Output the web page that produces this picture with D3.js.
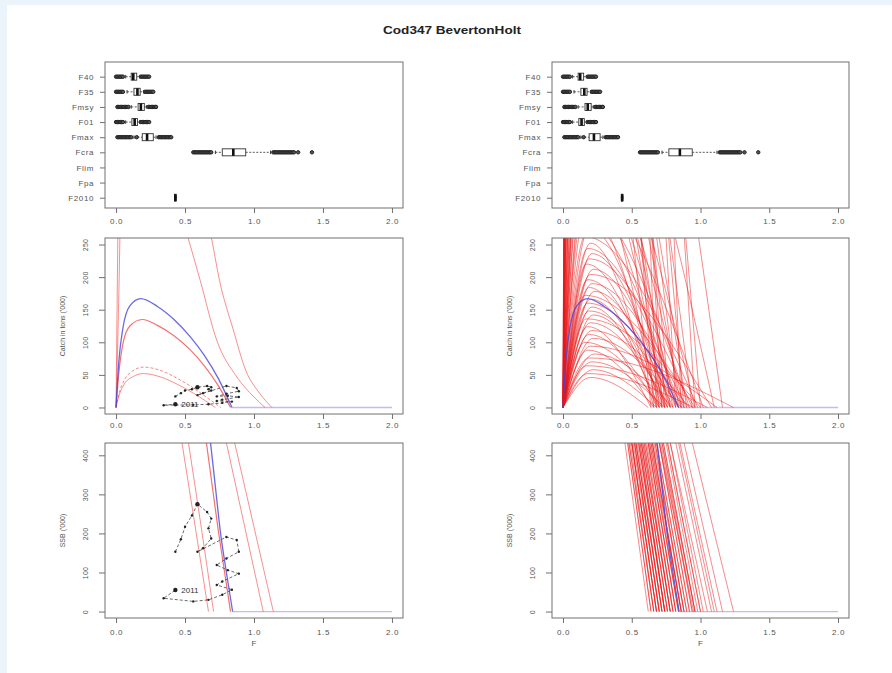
<!DOCTYPE html>
<html>
<head>
<meta charset="utf-8">
<script src="https://cdn.jsdelivr.net/npm/d3@7"></script>
<style>
  body { margin: 0; background: #ebf3fb; }
  svg { display: block; }
  text { font-family: 'Liberation Sans', Arial, sans-serif; }
</style>
</head>
<body>
<div id="chart"></div>
<script>
// ---- data ----
const fTicks = [0, 0.5, 1, 1.5, 2];
const catchTicks = [0, 50, 100, 150, 200, 250];
const ssbTicks = [0, 100, 200, 300, 400];

// reference points, bottom to top (R stacks the first group at the bottom)
const refNames = ['F2010', 'Fpa', 'Flim', 'Fcra', 'Fmax', 'F01', 'Fmsy', 'F35', 'F40'];
const refLo  = [0.425, null, null, 0.72, 0.13, 0.07, 0.11, 0.08, 0.07];
const refQ1  = [0.425, null, null, 0.77, 0.19, 0.115, 0.16, 0.13, 0.11];
const refMed = [0.43, null, null, 0.85, 0.225, 0.135, 0.18, 0.155, 0.125];
const refQ3  = [0.435, null, null, 0.94, 0.27, 0.155, 0.205, 0.175, 0.15];
const refHi  = [0.435, null, null, 1.12, 0.29, 0.17, 0.22, 0.20, 0.17];
const refOut = [
  [],
  [],
  [],
  [0.56, 0.57, 0.58, 0.59, 0.60, 0.61, 0.62, 0.63, 0.64, 0.65, 0.66, 0.67, 0.68, 0.69,
   1.14, 1.15, 1.16, 1.17, 1.18, 1.19, 1.20, 1.21, 1.22, 1.23, 1.24, 1.25, 1.26, 1.27, 1.28, 1.29, 1.32, 1.42],
  [0.01, 0.02, 0.03, 0.04, 0.05, 0.06, 0.07, 0.08, 0.09, 0.10, 0.11, 0.15,
   0.31, 0.32, 0.33, 0.34, 0.35, 0.36, 0.37, 0.38, 0.39, 0.40],
  [0.00, 0.01, 0.02, 0.03, 0.04, 0.05, 0.18, 0.19, 0.20, 0.21, 0.22, 0.23, 0.24],
  [0.01, 0.02, 0.03, 0.04, 0.05, 0.06, 0.07, 0.08, 0.09, 0.235, 0.245, 0.255, 0.265, 0.275, 0.285, 0.29],
  [0.00, 0.01, 0.02, 0.03, 0.04, 0.05, 0.21, 0.22, 0.23, 0.24, 0.25, 0.26, 0.27],
  [0.00, 0.01, 0.02, 0.03, 0.04, 0.05, 0.18, 0.19, 0.20, 0.21, 0.22, 0.23, 0.24]
];

// yield (catch) curves, [F, catch]
const yieldMedian = [[0, 0], [0.02, 70], [0.05, 122], [0.1, 156], [0.18, 167], [0.3, 155], [0.42, 135], [0.54, 108], [0.64, 80], [0.74, 45], [0.84, 0]];
const yieldLow = [[0, 0], [0.02, 52], [0.05, 98], [0.1, 125], [0.19, 135], [0.3, 126], [0.42, 110], [0.54, 88], [0.64, 64], [0.74, 34], [0.83, 0]];
const yieldLowDash = [[0, 0], [0.02, 20], [0.06, 42], [0.12, 56], [0.2, 62], [0.32, 57], [0.45, 44], [0.56, 30], [0.66, 15], [0.76, 0]];
const yieldLower = [[0, 0], [0.02, 17], [0.06, 36], [0.12, 47], [0.2, 52], [0.32, 47], [0.45, 35], [0.56, 22], [0.65, 10], [0.72, 0]];
const yieldUpper1 = [[0, 0], [0.013, 262], [0.03, 600], [0.52, 262], [0.61, 195], [0.73, 103], [0.875, 47], [1.0, 16], [1.08, 0]];
const yieldUpper2 = [[0, 0], [0.028, 262], [0.05, 600], [0.69, 262], [0.75, 195], [0.85, 119], [0.94, 57], [1.04, 22], [1.13, 0]];

// SSB curves, [F, SSB]
const ssbMedian = [[0.685, 432], [0.72, 320], [0.755, 208], [0.80, 100], [0.845, 0]];
const ssbMid = [[0.655, 432], [0.74, 210], [0.83, 0]];
const ssbLow1 = [[0.478, 432], [0.577, 210], [0.67, 0]];
const ssbLow2 = [[0.525, 432], [0.62, 210], [0.707, 0]];
const ssbHigh1 = [[0.80, 432], [0.937, 210], [1.067, 0]];
const ssbHigh2 = [[0.86, 432], [1.004, 210], [1.14, 0]];

// observed history
const trajYears = [1986, 1987, 1988, 1989, 1990, 1991, 1992, 1993, 1994, 1995, 1996, 1997, 1998,
                   1999, 2000, 2001, 2002, 2003, 2004, 2005, 2006, 2007, 2008, 2009, 2010, 2011];
const trajF = [0.43, 0.47, 0.50, 0.55, 0.59, 0.66, 0.69, 0.67, 0.69, 0.63, 0.59, 0.80, 0.875,
               0.89, 0.80, 0.73, 0.81, 0.89, 0.77, 0.73, 0.84, 0.77, 0.67, 0.56, 0.345, 0.43];
const trajSsb = [153, 185, 217, 246, 275, 255, 238, 213, 187, 162, 153, 191, 183,
                 153, 136, 119, 106, 97, 77, 68, 56, 43, 30, 26, 34, 55];
const trajCatch = [17, 22, 26, 28, 31, 33, 31, 28, 26, 22, 19, 33, 30,
                   25, 21, 17, 18, 16, 12, 10, 9, 7, 5, 4, 3.5, 5];
const markYears = [1990, 2011];

// bootstrap runs (right column)
const simFmsy = [0.20, 0.18, 0.22, 0.17, 0.21, 0.19, 0.23, 0.18, 0.20, 0.16, 0.22,
                 0.19, 0.21, 0.18, 0.20, 0.17, 0.22, 0.19, 0.21, 0.18, 0.20, 0.16,
                 0.23, 0.19, 0.21, 0.18, 0.20, 0.22, 0.17, 0.19, 0.21, 0.18, 0.20,
                 0.16, 0.19, 0.14, 0.17, 0.12, 0.15, 0.10, 0.18, 0.13, 0.16, 0.11,
                 0.14, 0.09, 0.17, 0.12, 0.15, 0.08, 0.13, 0.10, 0.14, 0.07, 0.11,
                 0.09, 0.12, 0.06, 0.10, 0.08, 0.11, 0.05, 0.09, 0.07, 0.06, 0.08];
const simMsy = [46, 52, 58, 64, 70, 76, 82, 88, 94, 100, 106,
                112, 118, 124, 130, 136, 142, 148, 154, 160, 166, 172,
                178, 184, 190, 196, 204, 212, 220, 228, 236, 244, 252,
                262, 275, 290, 305, 320, 338, 356, 375, 395, 420, 445,
                470, 500, 530, 560, 600, 640, 680, 730, 780, 840, 900,
                970, 1050, 1130, 1220, 1320, 1450, 1600, 1800, 2000, 2300, 2600];
const simFcrash = [0.62, 0.95, 0.68, 1.05, 0.74, 1.24, 0.80, 0.66, 1.12, 0.72, 0.86,
                   0.70, 0.92, 0.64, 0.78, 1.00, 0.76, 0.84, 0.70, 0.88, 0.74, 0.96,
                   0.80, 0.68, 0.90, 0.76, 1.08, 0.82, 0.72, 0.94, 0.78, 0.86, 0.66,
                   0.98, 0.74, 0.84, 0.70, 0.92, 0.78, 1.02, 0.82, 0.68, 0.88, 0.74,
                   0.96, 0.80, 0.72, 0.86, 1.10, 0.76, 0.90, 0.64, 0.84, 0.70, 0.94,
                   0.78, 1.16, 0.66, 0.88, 0.74, 1.00, 0.72, 0.82, 0.96, 0.68, 0.86];
const simFtop = [0.45, 0.70, 0.50, 0.78, 0.55, 0.94, 0.60, 0.48, 0.85, 0.53, 0.65,
                 0.52, 0.70, 0.47, 0.58, 0.76, 0.57, 0.63, 0.51, 0.67, 0.56, 0.73,
                 0.61, 0.50, 0.68, 0.57, 0.82, 0.62, 0.54, 0.72, 0.59, 0.65, 0.49,
                 0.75, 0.56, 0.64, 0.52, 0.70, 0.59, 0.78, 0.62, 0.50, 0.67, 0.55,
                 0.73, 0.60, 0.53, 0.65, 0.84, 0.57, 0.68, 0.47, 0.63, 0.52, 0.71,
                 0.58, 0.88, 0.48, 0.66, 0.55, 0.76, 0.53, 0.62, 0.72, 0.50, 0.64];

// ---- layout ----
const W = 892, H = 673;
const fDomain = [-0.08, 2.08];
const colX = [105, 552], colW = [298, 297];
const rowY = { box: [62, 208], catch: [238, 414], ssb: [443, 618] };
const axisColor = '#707070', textColor = '#555';
const red = '#f03434', simRed = '#e81414', blue = '#4444e0';

const svg = d3.select('#chart').append('svg').attr('width', W).attr('height', H);
svg.append('rect').attr('x', 7).attr('y', 5).attr('width', W - 7).attr('height', H - 5).attr('fill', '#fff');
const defs = svg.append('defs');

svg.append('text')
    .attr('x', 452).attr('y', 34)
    .attr('text-anchor', 'middle')
    .attr('font-size', 11).attr('font-weight', 'bold').attr('fill', '#222')
    .attr('textLength', 138).attr('lengthAdjust', 'spacingAndGlyphs')
    .text('Cod347 BevertonHolt');

let clipN = 0;
function panel(col, row, yDomain) {
    const x0 = colX[col], x1 = x0 + colW[col];
    const [y0, y1] = rowY[row];
    const id = 'clip' + (clipN++);
    defs.append('clipPath').attr('id', id).append('rect')
        .attr('x', x0).attr('y', y0).attr('width', x1 - x0).attr('height', y1 - y0);
    const g = svg.append('g');
    return {
        x: d3.scaleLinear().domain(fDomain).range([x0, x1]),
        y: d3.scaleLinear().domain(yDomain).range([y1, y0]),
        g, plot: g.append('g').attr('clip-path', `url(#${id})`),
        x0, x1, y0, y1
    };
}

function styleAxis(ax) {
    ax.select('.domain').remove();
    ax.selectAll('line').attr('stroke', axisColor);
    ax.selectAll('text')
        .attr('fill', textColor).attr('font-size', 8).attr('letter-spacing', 0.6)
        .attr('font-family', 'Liberation Sans, Arial, sans-serif');
}

function frame(p, pad) {
    p.g.append('rect')
        .attr('x', p.x0).attr('y', p.y0).attr('width', p.x1 - p.x0).attr('height', p.y1 - p.y0)
        .attr('fill', 'none').attr('stroke', axisColor);
    const ax = p.g.append('g').attr('transform', `translate(0,${p.y1})`)
        .call(d3.axisBottom(p.x).tickValues(fTicks).tickFormat(d3.format('.1f')).tickSize(5).tickPadding(pad));
    styleAxis(ax);
}

function numberAxis(p, ticks, title) {
    const ay = p.g.append('g').attr('transform', `translate(${p.x0},0)`)
        .call(d3.axisLeft(p.y).tickValues(ticks).tickSize(6));
    styleAxis(ay);
    ay.selectAll('text')
        .attr('transform', 'rotate(-90)')
        .attr('x', 0).attr('y', -17).attr('dy', 0)
        .attr('text-anchor', 'middle').attr('font-size', 7).attr('letter-spacing', 0.3);
    p.g.append('text')
        .attr('transform', `translate(${p.x0 - 40},${(p.y0 + p.y1) / 2}) rotate(-90)`)
        .attr('text-anchor', 'middle').attr('font-size', 7).attr('fill', textColor)
        .text(title);
}

function fTitle(p) {
    p.g.append('text')
        .attr('x', (p.x0 + p.x1) / 2).attr('y', 646)
        .attr('text-anchor', 'middle').attr('font-size', 8).attr('fill', textColor)
        .text('F');
}

function drawBoxes(p) {
    const hb = 3.5;
    const ay = p.g.append('g').attr('transform', `translate(${p.x0},0)`)
        .call(d3.axisLeft(p.y).tickValues(refNames.map((_, i) => i + 1))
            .tickFormat(i => refNames[i - 1]).tickSize(5).tickPadding(6));
    styleAxis(ay);
    refNames.forEach((name, i) => {
        const yc = p.y(i + 1);
        const grp = p.plot.append('g');
        refOut[i].forEach(v => {
            grp.append('circle').attr('cx', p.x(v)).attr('cy', yc).attr('r', 1.7)
                .attr('fill', '#555').attr('stroke', '#222').attr('stroke-width', 1);
        });
        if (refMed[i] == null) return;
        [[refLo[i], refQ1[i]], [refQ3[i], refHi[i]]].forEach(([a, b]) => {
            grp.append('line').attr('x1', p.x(a)).attr('x2', p.x(b)).attr('y1', yc).attr('y2', yc)
                .attr('stroke', '#333').attr('stroke-width', 0.8).attr('stroke-dasharray', '2,1.5');
        });
        [refLo[i], refHi[i]].forEach(v => {
            grp.append('line').attr('x1', p.x(v)).attr('x2', p.x(v)).attr('y1', yc - hb / 2).attr('y2', yc + hb / 2)
                .attr('stroke', '#333').attr('stroke-width', 1);
        });
        grp.append('rect')
            .attr('x', p.x(refQ1[i])).attr('y', yc - hb)
            .attr('width', Math.max(1, p.x(refQ3[i]) - p.x(refQ1[i]))).attr('height', 2 * hb)
            .attr('fill', '#fff').attr('stroke', '#333').attr('stroke-width', 0.9);
        grp.append('line').attr('x1', p.x(refMed[i])).attr('x2', p.x(refMed[i]))
            .attr('y1', yc - hb).attr('y2', yc + hb)
            .attr('stroke', '#111').attr('stroke-width', 2.6);
    });
}

function curve(p, pts, color, opts = {}) {
    const line = d3.line().x(d => p.x(d[0])).y(d => p.y(d[1])).curve(opts.linear ? d3.curveLinear : d3.curveMonotoneX);
    p.plot.append('path').attr('d', line(pts))
        .attr('fill', 'none').attr('stroke', color)
        .attr('stroke-width', opts.width || 1).attr('stroke-opacity', opts.opacity || 1)
        .attr('stroke-dasharray', opts.dash || null);
    if (opts.tail) {
        // flat line along zero once the stock has crashed
        const last = pts[pts.length - 1];
        p.plot.append('path').attr('d', d3.line().x(d => p.x(d[0])).y(d => p.y(d[1]))([[last[0], 0], [2, 0]]))
            .attr('fill', 'none').attr('stroke', color)
            .attr('stroke-width', 1.3).attr('stroke-opacity', 0.35);
    }
}

function history(p, values) {
    const pts = trajF.map((f, i) => [f, values[i]]);
    p.plot.append('path')
        .attr('d', d3.line().x(d => p.x(d[0])).y(d => p.y(d[1]))(pts))
        .attr('fill', 'none').attr('stroke', '#444').attr('stroke-width', 0.8).attr('stroke-dasharray', '3,2');
    pts.forEach((d, i) => {
        const bold = markYears.includes(trajYears[i]);
        p.plot.append('circle').attr('cx', p.x(d[0])).attr('cy', p.y(d[1]))
            .attr('r', bold ? 2.2 : 1.2).attr('fill', '#222');
    });
    const last = pts[pts.length - 1];
    p.plot.append('text')
        .attr('x', p.x(last[0]) + 6).attr('y', p.y(last[1]) + 3)
        .attr('font-size', 8).attr('fill', '#333')
        .text(trajYears[trajYears.length - 1]);
}

// ---- top row: reference point box plots ----
[0, 1].forEach(col => {
    const p = panel(col, 'box', [0.32, 9.97]);
    drawBoxes(p);
    frame(p, 5);
});

// ---- middle left: catch vs F ----
{
    const p = panel(0, 'catch', [-10, 260]);
    const o = { opacity: 0.55 };
    curve(p, yieldUpper1, red, o);
    curve(p, yieldUpper2, red, o);
    curve(p, yieldLower, red, o);
    curve(p, yieldLowDash, red, { opacity: 0.6, dash: '3,2' });
    curve(p, yieldLow, red, { opacity: 0.7, width: 1.2 });
    curve(p, yieldMedian, blue, { opacity: 0.8, width: 1.3, tail: true });
    history(p, trajCatch);
    frame(p, 3);
    numberAxis(p, catchTicks, "Catch in tons ('000)");
}

// ---- middle right: catch vs F, bootstrap ----
{
    const p = panel(1, 'catch', [-10, 260]);
    simFmsy.forEach((fm, i) => {
        curve(p, [[0, 0], [fm, simMsy[i]], [simFcrash[i], 0]], simRed, { opacity: 0.55, width: 0.9 });
    });
    curve(p, yieldMedian, blue, { opacity: 0.8, width: 1.3, tail: true });
    frame(p, 3);
    numberAxis(p, catchTicks, "Catch in tons ('000)");
}

// ---- bottom left: SSB vs F ----
{
    const p = panel(0, 'ssb', [-16.5, 431.5]);
    const o = { opacity: 0.55 };
    curve(p, ssbLow1, red, o);
    curve(p, ssbLow2, red, o);
    curve(p, ssbHigh1, red, o);
    curve(p, ssbHigh2, red, o);
    curve(p, ssbMid, red, { opacity: 0.7, width: 1.2 });
    curve(p, ssbMedian, blue, { opacity: 0.8, width: 1.3, tail: true });
    history(p, trajSsb);
    frame(p, 6);
    numberAxis(p, ssbTicks, "SSB ('000)");
    fTitle(p);
}

// ---- bottom right: SSB vs F, bootstrap ----
{
    const p = panel(1, 'ssb', [-16.5, 431.5]);
    simFtop.forEach((ft, i) => {
        curve(p, [[ft, 432], [simFcrash[i], 0]], simRed, { opacity: 0.55, width: 0.9, linear: true });
    });
    curve(p, ssbMedian, blue, { opacity: 0.8, width: 1.3, tail: true });
    frame(p, 6);
    numberAxis(p, ssbTicks, "SSB ('000)");
    fTitle(p);
}
</script>
</body>
</html>
